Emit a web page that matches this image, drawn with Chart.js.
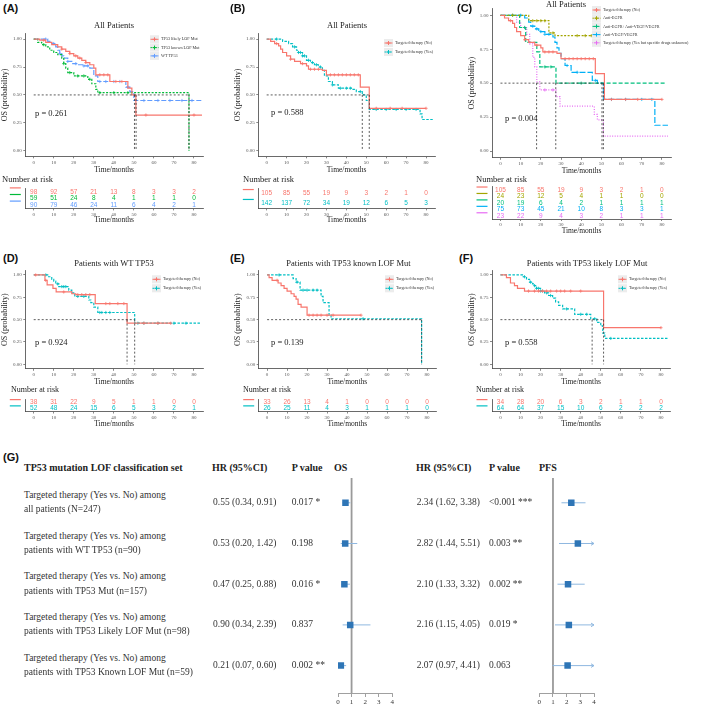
<!DOCTYPE html>
<html>
<head>
<meta charset="utf-8">
<title>Targeted therapy and OS by TP53 status</title>
<script src="https://cdn.jsdelivr.net/npm/chart.js@4.4.1/dist/chart.umd.min.js"></script>
<style>
  html, body { margin: 0; padding: 0; background: #fff; }
  body { position: relative; width: 709px; height: 709px; overflow: hidden;
         font-family: "Liberation Serif", "DejaVu Serif", serif; color: #333; }
  canvas { position: absolute; }
  .t { position: absolute; white-space: nowrap; line-height: 1.2; }
</style>
</head>
<body>
<script>
// ---- values ----
const riskTimes = [0, 10, 20, 30, 40, 50, 60, 70, 80];
const survTicks = [0, 0.25, 0.5, 0.75, 1];
const forestTicks = [0, 1, 2, 3, 4];

// (A) all patients by TP53 class
const aLikelyT = [0, 3, 6, 9, 12, 14, 16, 18, 20, 22, 24, 26, 28, 30, 31, 38, 47, 49, 51, 84];
const aLikelyS = [1, 0.99, 0.97, 0.95, 0.93, 0.91, 0.89, 0.87, 0.85, 0.83, 0.81, 0.79, 0.77, 0.74, 0.68, 0.62, 0.56, 0.50, 0.32, 0.32];
const aLikelyC = [5, 14, 18, 21, 23, 26, 33, 35, 37, 41, 44, 56, 80];
const aKnownT = [0, 2, 4, 6, 8, 10, 12, 14, 15, 16, 17, 20, 27, 29, 31, 32, 77.5];
const aKnownS = [1, 0.97, 0.95, 0.93, 0.90, 0.88, 0.86, 0.83, 0.78, 0.74, 0.70, 0.67, 0.64, 0.60, 0.55, 0.52, 0];
const aKnownC = [5, 15, 18, 22, 25, 28, 33, 40, 47];
const aWtT = [0, 7, 9, 11, 12, 13, 14, 15, 17, 19, 22, 25, 28, 30, 32, 46, 48, 50, 84];
const aWtS = [1, 0.98, 0.96, 0.93, 0.90, 0.87, 0.85, 0.83, 0.80, 0.78, 0.77, 0.76, 0.74, 0.67, 0.62, 0.57, 0.53, 0.45, 0.45];
const aWtC = [6, 10, 13, 17, 21, 25, 27, 33, 36, 40, 43, 47, 55, 62, 68, 74, 79];
const aMed = [50.3, 51.1, 77.5];
const aRiskLikely = [98, 92, 57, 21, 13, 8, 3, 3, 2];
const aRiskKnown = [59, 51, 24, 8, 4, 1, 1, 1, 0];
const aRiskWt = [90, 79, 46, 24, 11, 6, 4, 2, 1];

// (B) all patients, targeted therapy no / yes
const bNoT = [0, 2, 4, 6, 7, 8, 10, 12, 14, 17, 20, 21, 28, 30, 47, 51.5, 80];
const bNoS = [1, 0.98, 0.96, 0.94, 0.91, 0.88, 0.85, 0.82, 0.80, 0.78, 0.76, 0.73, 0.72, 0.68, 0.57, 0.38, 0.38];
const bNoC = [5, 12, 18, 22, 24, 26, 32, 34, 36, 38, 40, 42, 44, 46, 55, 62, 68, 80];
const bYesT = [0, 8, 11, 13, 15, 16, 18, 20, 22, 24, 26, 28, 29, 31, 33, 36, 43, 45, 48, 50, 51.5, 77, 78, 84];
const bYesS = [1, 0.98, 0.96, 0.93, 0.90, 0.88, 0.85, 0.81, 0.79, 0.77, 0.75, 0.72, 0.67, 0.62, 0.59, 0.56, 0.55, 0.53, 0.50, 0.45, 0.37, 0.33, 0.28, 0.28];
const bYesC = [5, 14, 16, 17, 18, 19, 21, 23, 25, 27, 33, 37, 40, 42, 47, 55, 60, 65, 70, 75];
const bMed = [48, 51.5];
const bRiskNo = [105, 85, 55, 19, 9, 3, 2, 1, 0];
const bRiskYes = [142, 137, 72, 34, 19, 12, 6, 5, 3];

// (C) all patients by drug class
const cEgfrT = [0, 14, 24, 27, 47];
const cEgfrS = [1, 0.96, 0.87, 0.85, 0.85];
const cEgfrC = [6, 16, 18, 20, 22, 26, 38, 42, 45];
const cBothT = [0, 9.5, 12.5, 18, 19.5, 27.5, 82];
const cBothS = [1, 0.91, 0.80, 0.73, 0.62, 0.50, 0.50];
const cBothC = [12, 22, 25, 40];
const cVegfT = [0, 12, 14, 15, 17, 19, 22, 26, 27, 28, 29, 30, 32, 35, 45.5, 48, 51, 76.5, 83];
const cVegfS = [1, 0.98, 0.95, 0.92, 0.90, 0.88, 0.86, 0.84, 0.80, 0.76, 0.72, 0.68, 0.63, 0.58, 0.52, 0.50, 0.38, 0.19, 0.19];
const cVegfC = [6, 10, 16, 18, 20, 22, 24, 33, 38, 47, 55, 62, 70, 75];
const cUnkT = [0, 8, 10, 13, 14.5, 16, 17, 18, 19.5, 27.5, 29.5, 46.5, 48, 51, 83];
const cUnkS = [1, 0.95, 0.91, 0.86, 0.79, 0.69, 0.62, 0.51, 0.45, 0.40, 0.33, 0.27, 0.23, 0.11, 0.11];
const cUnkC = [12, 22, 26];
const cMed = [17.9, 27.4, 50.3, 51];
const cRiskEgfr = [24, 23, 12, 5, 4, 1, 1, 0, 0];
const cRiskBoth = [20, 19, 6, 4, 2, 1, 1, 1, 1];
const cRiskVegf = [75, 73, 45, 21, 10, 8, 3, 3, 1];
const cRiskUnk = [23, 22, 9, 4, 3, 2, 1, 1, 1];

// (D) WT TP53
const dNoT = [0, 5.6, 6.7, 9.6, 11.2, 19, 21, 30.7, 46.6, 68.4];
const dNoS = [1, 0.94, 0.89, 0.85, 0.81, 0.79, 0.78, 0.68, 0.46, 0.46];
const dNoC = [1, 6, 15, 22, 24, 26, 28, 36, 38, 42, 45, 55, 62, 68.4];
const dYesT = [0, 7, 9, 10, 11, 12.5, 17.5, 19, 20.5, 27.5, 28.5, 30, 32, 50.4, 83];
const dYesS = [1, 0.98, 0.95, 0.93, 0.90, 0.87, 0.83, 0.80, 0.76, 0.72, 0.69, 0.64, 0.58, 0.46, 0.46];
const dYesC = [6, 12, 14, 15, 16, 22, 25, 33, 34, 36, 38, 52, 55, 62, 70, 76];
const dMed = [46.6, 50.4];
const dRiskNo = [38, 31, 22, 9, 5, 1, 1, 0, 0];
const dRiskYes = [52, 48, 24, 15, 6, 5, 3, 2, 1];

// (E) TP53 known LOF
const eNoT = [0, 1, 2.5, 5.5, 7, 8.5, 10, 12, 13.5, 14.5, 15.5, 17, 20, 47];
const eNoS = [1, 0.97, 0.94, 0.91, 0.88, 0.85, 0.82, 0.79, 0.76, 0.73, 0.67, 0.64, 0.55, 0.55];
const eNoC = [5, 21, 23, 25, 27, 30, 33, 47];
const eYesT = [0, 13, 14.5, 16.5, 27, 28, 31, 32, 77.3];
const eYesS = [1, 0.96, 0.92, 0.83, 0.76, 0.69, 0.55, 0.51, 0];
const eYesC = [6, 15, 18, 20, 23, 25, 48];
const eMed = [77.3];
const eRiskNo = [33, 26, 13, 4, 1, 0, 0, 0, 0];
const eRiskYes = [26, 25, 11, 4, 3, 1, 1, 1, 0];

// (F) TP53 likely LOF
const fNoT = [0, 3, 5, 7, 8.5, 12, 51.4, 80];
const fNoS = [1, 0.97, 0.91, 0.88, 0.85, 0.82, 0.41, 0.41];
const fNoC = [14, 17, 19, 21, 23, 25, 28, 30, 32, 35, 40, 80];
const fYesT = [0, 11, 13, 14.5, 16, 17, 18, 20, 22, 24, 26, 27.5, 29, 31, 37, 45, 48, 50, 51, 52, 84];
const fYesS = [1, 0.98, 0.95, 0.92, 0.90, 0.88, 0.85, 0.82, 0.80, 0.77, 0.74, 0.70, 0.66, 0.62, 0.56, 0.51, 0.47, 0.43, 0.35, 0.29, 0.29];
const fYesC = [12, 15, 17, 18, 19, 20, 21, 23, 25, 33, 40, 43, 47, 55];
const fMed = [45.7, 51.4];
const fRiskNo = [34, 28, 20, 6, 3, 2, 1, 1, 0];
const fRiskYes = [64, 64, 37, 15, 10, 6, 2, 2, 2];

// (G) forest table
const forestLabels = [
  'all patients (N=247)',
  'patients with WT TP53 (n=90)',
  'patients with TP53 Mut (n=157)',
  'patients with TP53 Likely LOF Mut (n=98)',
  'patients with TP53 Known LOF Mut (n=59)'
];
const osHr = [0.55, 0.53, 0.47, 0.90, 0.21];
const osLo = [0.34, 0.20, 0.25, 0.34, 0.07];
const osHi = [0.91, 1.42, 0.88, 2.39, 0.60];
const osP = ['0.017 *', '0.198', '0.016 *', '0.837', '0.002 **'];
const pfsHr = [2.34, 2.82, 2.10, 2.16, 2.07];
const pfsLo = [1.62, 1.44, 1.33, 1.15, 0.97];
const pfsHi = [3.38, 5.51, 3.32, 4.05, 4.41];
const pfsP = ['<0.001 ***', '0.003 **', '0.002 **', '0.019 *', '0.063'];

// ---- helpers ----
Chart.defaults.animation = false;
Chart.defaults.font.family = '"Liberation Serif", serif';
const XMIN = -4.2, XMAX = 84.5;
const RED = '#F8766D', TEAL = '#00BFC4';

function survAt(t, s, x) {
  let v = s[0];
  for (let i = 0; i < t.length; i++) if (t[i] <= x) v = s[i];
  return v;
}

function newCanvas(l, t, w, h) {
  const c = document.createElement('canvas');
  c.width = w; c.height = h;
  c.style.left = l + 'px'; c.style.top = t + 'px';
  c.style.width = w + 'px'; c.style.height = h + 'px';
  document.body.appendChild(c);
  return c;
}

function addText(x, y, str, size, extra) {
  const d = document.createElement('div');
  d.className = 't';
  d.textContent = str;
  d.style.left = x + 'px';
  d.style.top = (y - size * 0.6) + 'px';
  d.style.fontSize = size + 'px';
  if (extra) Object.assign(d.style, extra);
  document.body.appendChild(d);
  return d;
}
const center = { transform: 'translateX(-50%)' };

function axisX(fitH, title, titleSize) {
  return {
    type: 'linear', min: XMIN, max: XMAX,
    afterFit: s => { s.height = fitH; },
    afterBuildTicks: s => { s.ticks = riskTimes.map(v => ({ value: v })); },
    grid: { drawOnChartArea: false, tickLength: 2, color: '#555', lineWidth: 0.7 },
    border: { color: '#444', width: 0.8 },
    ticks: { font: { size: 5 }, color: '#555', padding: 1, maxRotation: 0, autoSkip: false },
    title: { display: true, text: title, font: { size: titleSize }, color: '#222', padding: 0 }
  };
}

function drawKM(p) {
  const cl = Math.floor(p.area.l - 25), ct = Math.floor(p.area.t - 3);
  const cr = Math.ceil(p.right || p.area.r + 4), cb = Math.round(p.xTitleY + 5);
  const cv = newCanvas(cl, ct, cr - cl, cb - ct);
  const sets = [];
  p.curves.forEach(c => {
    // KM step: hold the previous value, then drop at the event time
    sets.push({
      data: c.t.map((t, i) => ({ x: t, y: c.s[i] })),
      borderColor: c.color, borderWidth: 1.2, borderDash: c.dash,
      stepped: 'before', pointRadius: 0, fill: false
    });
    sets.push({
      data: c.cens.map(t => ({ x: t, y: survAt(c.t, c.s, t) })),
      showLine: false, pointStyle: 'cross', pointRadius: 1.6,
      pointBorderColor: c.color, pointBorderWidth: 0.8
    });
  });
  const extra = {
    id: 'km' + p.id,
    afterDatasetsDraw(chart) {
      const ctx = chart.ctx, xs = chart.scales.x, ys = chart.scales.y;
      ctx.save();
      // median lines
      ctx.strokeStyle = '#333'; ctx.lineWidth = 0.8; ctx.setLineDash([2, 2]);
      const y5 = ys.getPixelForValue(0.5), y0 = ys.getPixelForValue(0);
      ctx.beginPath();
      ctx.moveTo(xs.getPixelForValue(0), y5);
      ctx.lineTo(xs.getPixelForValue(Math.max(...p.med)), y5);
      p.med.forEach(m => {
        const x = xs.getPixelForValue(m);
        ctx.moveTo(x, y5); ctx.lineTo(x, y0);
      });
      ctx.stroke();
      // legend
      ctx.font = '4.2px "Liberation Serif"';
      ctx.textBaseline = 'middle';
      p.curves.forEach((c, i) => {
        const lx = p.leg.x - cl, ly = p.leg.y + i * p.leg.dy - ct;
        ctx.setLineDash([]);
        ctx.fillStyle = '#ececec';
        ctx.fillRect(lx, ly - 4, 9, 8);
        ctx.strokeStyle = c.color; ctx.lineWidth = 1;
        ctx.setLineDash(c.dash.map(d => d * 0.7));
        ctx.beginPath(); ctx.moveTo(lx + 0.5, ly); ctx.lineTo(lx + 8.5, ly); ctx.stroke();
        ctx.setLineDash([]);
        ctx.beginPath();
        ctx.moveTo(lx + 4.5, ly - 2); ctx.lineTo(lx + 4.5, ly + 2);
        ctx.moveTo(lx + 2.5, ly); ctx.lineTo(lx + 6.5, ly);
        ctx.stroke();
        ctx.fillStyle = '#333';
        ctx.fillText(c.label, lx + 11, ly);
      });
      ctx.restore();
    }
  };
  new Chart(cv, {
    type: 'line',
    data: { datasets: sets },
    options: {
      responsive: false, animation: false,
      layout: { autoPadding: false, padding: { left: 0, top: p.area.t - ct, right: cr - p.area.r, bottom: 0 } },
      plugins: { legend: { display: false }, tooltip: { enabled: false } },
      scales: {
        x: axisX(cb - p.area.b, 'Time/months', 7.5),
        y: {
          min: -0.05, max: 1.05,
          afterFit: s => { s.width = p.area.l - cl; },
          afterBuildTicks: s => { s.ticks = survTicks.map(v => ({ value: v })); },
          grid: { drawOnChartArea: false, tickLength: 2, color: '#555', lineWidth: 0.7 },
          border: { color: '#444', width: 0.8 },
          ticks: { font: { size: 5 }, color: '#555', padding: 1.5, callback: v => Number(v).toFixed(2) },
          title: { display: true, text: 'OS (probability)', font: { size: 8 }, color: '#222', padding: 0 }
        }
      }
    },
    plugins: [extra]
  });
}

function drawRisk(p) {
  const cl = Math.floor(p.area.l - 25), ct = Math.floor(p.area.t - 2);
  const cr = Math.ceil(p.area.r + 4), cb = Math.round(p.xTitleY + 5);
  const cv = newCanvas(cl, ct, cr - cl, cb - ct);
  const n = p.rows.length;
  const extra = {
    id: 'risk' + p.id,
    afterDraw(chart) {
      const ctx = chart.ctx, xs = chart.scales.x, ys = chart.scales.y;
      ctx.save();
      ctx.font = '6.5px "Liberation Sans"';
      ctx.textAlign = 'center'; ctx.textBaseline = 'middle';
      p.rows.forEach((r, i) => {
        const y = ys.getPixelForValue(i + 1);
        ctx.fillStyle = r.color;
        r.n.forEach((v, j) => ctx.fillText(String(v), xs.getPixelForValue(riskTimes[j]), y));
        ctx.strokeStyle = r.color; ctx.lineWidth = 1.2;
        ctx.beginPath();
        ctx.moveTo(p.area.l - 15.5 - cl, y - p.markOff);
        ctx.lineTo(p.area.l - 4.5 - cl, y - p.markOff);
        ctx.stroke();
      });
      ctx.restore();
    }
  };
  new Chart(cv, {
    type: 'line',
    data: { datasets: [] },
    options: {
      responsive: false, animation: false,
      layout: { autoPadding: false, padding: { left: 0, top: p.area.t - ct, right: cr - p.area.r, bottom: 0 } },
      plugins: { legend: { display: false }, tooltip: { enabled: false } },
      scales: {
        x: axisX(cb - p.area.b, 'Time/months', 7.5),
        y: {
          min: 0.5, max: n + 0.5, reverse: true,
          afterFit: s => { s.width = p.area.l - cl; },
          grid: { display: true, drawOnChartArea: false, drawTicks: false },
          border: { color: '#444', width: 0.8 },
          ticks: { display: false }
        }
      }
    },
    plugins: [extra]
  });
}

function drawForest(p) {
  const cl = Math.floor(p.area.l - 6), ct = Math.floor(p.area.t - 4);
  const cr = Math.ceil(p.area.r + 8), cb = 709;
  const cv = newCanvas(cl, ct, cr - cl, cb - ct);
  const extra = {
    id: 'forest' + p.id,
    beforeDatasetsDraw(chart) {
      const ctx = chart.ctx, xs = chart.scales.x, ys = chart.scales.y, a = chart.chartArea;
      ctx.save();
      ctx.strokeStyle = '#9a9a9a'; ctx.lineWidth = 1.8;
      ctx.beginPath();
      ctx.moveTo(xs.getPixelForValue(1), a.top); ctx.lineTo(xs.getPixelForValue(1), a.bottom);
      ctx.stroke();
      ctx.strokeStyle = '#8fb8e0'; ctx.lineWidth = 1;
      p.hr.forEach((h, i) => {
        const y = ys.getPixelForValue(i);
        const x0 = xs.getPixelForValue(Math.max(0, p.lo[i]));
        const x1 = xs.getPixelForValue(Math.min(4, p.hi[i]));
        ctx.beginPath(); ctx.moveTo(x0, y); ctx.lineTo(x1, y); ctx.stroke();
        if (p.hi[i] > 4) {
          ctx.beginPath();
          ctx.moveTo(x1 - 3, y - 1.8); ctx.lineTo(x1, y); ctx.lineTo(x1 - 3, y + 1.8);
          ctx.stroke();
        }
      });
      ctx.restore();
    }
  };
  new Chart(cv, {
    type: 'scatter',
    data: { datasets: [{
      data: p.hr.map((h, i) => ({ x: h, y: i })),
      pointStyle: 'rect', pointRadius: 4.6,
      backgroundColor: '#2E75B6', borderColor: '#2E75B6', borderWidth: 0
    }] },
    options: {
      responsive: false, animation: false,
      layout: { autoPadding: false, padding: { left: p.area.l - cl, top: p.area.t - ct, right: cr - p.area.r, bottom: 0 } },
      plugins: { legend: { display: false }, tooltip: { enabled: false } },
      scales: {
        x: {
          min: 0, max: 4,
          afterFit: s => { s.height = cb - p.area.b; },
          afterBuildTicks: s => { s.ticks = forestTicks.map(v => ({ value: v })); },
          grid: { drawOnChartArea: false, tickLength: 4, color: '#888', lineWidth: 0.8 },
          border: { color: '#888', width: 0.8 },
          ticks: { font: { size: 7 }, color: '#333', padding: 1 }
        },
        y: { display: false, min: -0.609, max: 4.673, reverse: true }
      }
    },
    plugins: [extra]
  });
}

// ---- panels ----
drawKM({ id: 'A', area: { l: 25.3, r: 203, t: 32.05, b: 156.35 }, xTitleY: 169.5,
  leg: { x: 150, y: 39.3, dy: 8.3 }, med: aMed,
  curves: [
    { t: aLikelyT, s: aLikelyS, cens: aLikelyC, color: RED, dash: [], label: 'TP53 likely LOF Mut' },
    { t: aKnownT, s: aKnownS, cens: aKnownC, color: '#00BA38', dash: [2, 1.5], label: 'TP53 known LOF Mut' },
    { t: aWtT, s: aWtS, cens: aWtC, color: '#619CFF', dash: [5, 2], label: 'WT TP53' }
  ] });
drawRisk({ id: 'A', area: { l: 25.3, r: 203, t: 188.6, b: 208.4 }, xTitleY: 220, markOff: 4,
  rows: [ { n: aRiskLikely, color: RED }, { n: aRiskKnown, color: '#00BA38' }, { n: aRiskWt, color: '#619CFF' } ] });

drawKM({ id: 'B', area: { l: 258.3, r: 435, t: 32.05, b: 156.35 }, xTitleY: 169.5,
  leg: { x: 384, y: 43, dy: 9 }, med: bMed,
  curves: [
    { t: bNoT, s: bNoS, cens: bNoC, color: RED, dash: [], label: 'Targeted therapy (No)' },
    { t: bYesT, s: bYesS, cens: bYesC, color: TEAL, dash: [2.5, 1.5], label: 'Targeted therapy (Yes)' }
  ] });
drawRisk({ id: 'B', area: { l: 258.3, r: 435, t: 188.6, b: 208.4 }, xTitleY: 220, markOff: 4,
  rows: [ { n: bRiskNo, color: RED }, { n: bRiskYes, color: TEAL } ] });

drawKM({ id: 'C', area: { l: 492, r: 671, t: 7.9, b: 157.8 }, xTitleY: 170.5, right: 709,
  leg: { x: 592, y: 10, dy: 8.2 }, med: cMed,
  curves: [
    { t: bNoT, s: bNoS, cens: bNoC, color: RED, dash: [], label: 'Targeted therapy (No)' },
    { t: cEgfrT, s: cEgfrS, cens: cEgfrC, color: '#A3A500', dash: [2, 1.5], label: 'Anti-EGFR' },
    { t: cBothT, s: cBothS, cens: cBothC, color: '#00BF7D', dash: [4, 2], label: 'Anti-EGFR+Anti-VEGF/VEGFR' },
    { t: cVegfT, s: cVegfS, cens: cVegfC, color: '#00B0F6', dash: [6, 2], label: 'Anti-VEGF/VEGFR' },
    { t: cUnkT, s: cUnkS, cens: cUnkC, color: '#E76BF3', dash: [1, 1.5], label: 'Targeted therapy (Yes but specific drugs unknown)' }
  ] });
drawRisk({ id: 'C', area: { l: 492, r: 671, t: 186.8, b: 219 }, xTitleY: 231, markOff: 3,
  rows: [ { n: bRiskNo, color: RED }, { n: cRiskEgfr, color: '#A3A500' }, { n: cRiskBoth, color: '#00BF7D' },
          { n: cRiskVegf, color: '#00B0F6' }, { n: cRiskUnk, color: '#E76BF3' } ] });

const row2 = [
  { id: 'D', l: 25.3, r: 203, legX: 152, med: dMed, no: [dNoT, dNoS, dNoC], yes: [dYesT, dYesS, dYesC], risk: [dRiskNo, dRiskYes] },
  { id: 'E', l: 258.7, r: 436, legX: 385, med: eMed, no: [eNoT, eNoS, eNoC], yes: [eYesT, eYesS, eYesC], risk: [eRiskNo, eRiskYes] },
  { id: 'F', l: 492, r: 670, legX: 618, med: fMed, no: [fNoT, fNoS, fNoC], yes: [fYesT, fYesS, fYesC], risk: [fRiskNo, fRiskYes] }
];
row2.forEach(g => {
  drawKM({ id: g.id, area: { l: g.l, r: g.r, t: 269.5, b: 368.8 }, xTitleY: 381.7,
    leg: { x: g.legX, y: 279.3, dy: 9 }, med: g.med,
    curves: [
      { t: g.no[0], s: g.no[1], cens: g.no[2], color: RED, dash: [], label: 'Targeted therapy (No)' },
      { t: g.yes[0], s: g.yes[1], cens: g.yes[2], color: TEAL, dash: [2.5, 1.5], label: 'Targeted therapy (Yes)' }
    ] });
  drawRisk({ id: g.id, area: { l: g.l, r: g.r, t: 399, b: 411.5 }, xTitleY: 424, markOff: 2.5,
    rows: [ { n: g.risk[0], color: RED }, { n: g.risk[1], color: TEAL } ] });
});

drawForest({ id: 'OS', area: { l: 338, r: 392.3, t: 478, b: 693 }, hr: osHr, lo: osLo, hi: osHi });
drawForest({ id: 'PFS', area: { l: 539.3, r: 594, t: 478, b: 693 }, hr: pfsHr, lo: pfsLo, hi: pfsHi });

// ---- text ----
const panelFont = { fontFamily: '"Liberation Sans", Arial, sans-serif', fontWeight: 'bold', color: '#111' };
[['(A)', 3, 8.5], ['(B)', 230, 8.5], ['(C)', 457, 8.5], ['(D)', 3, 259], ['(E)', 230, 259], ['(F)', 459, 259], ['(G)', 3, 458]]
  .forEach(([s, x, y]) => addText(x, y, s, 11, panelFont));

[['All Patients', 114, 25], ['All Patients', 347, 25], ['All Patients', 566, 4.5],
 ['Patients with WT TP53', 114, 263], ['Patients with TP53 known LOF Mut', 348.5, 263],
 ['Patients with TP53 likely LOF Mut', 587, 263]]
  .forEach(([s, x, y]) => addText(x, y, s, 8.5, Object.assign({ color: '#222' }, center)));

[['p = 0.261', 35, 113], ['p = 0.588', 271, 112], ['p = 0.004', 505, 117.7],
 ['p = 0.924', 35, 342], ['p = 0.139', 271, 342], ['p = 0.558', 505, 342]]
  .forEach(([s, x, y]) => addText(x, y, s, 8.5, { color: '#222' }));

[[2, 179, 8.5], [243, 179, 8.5], [476, 178.7, 8.5], [11, 390, 8], [243, 390, 8], [476, 390, 8]]
  .forEach(([x, y, f]) => addText(x, y, 'Number at risk', f, { color: '#222' }));

const bold = { fontWeight: 'bold', color: '#222' };
addText(24, 468, 'TP53 mutation LOF classification set', 10, bold);
addText(212, 468, 'HR (95%CI)', 10, bold);
addText(291.7, 468, 'P value', 10, bold);
addText(334, 468, 'OS', 10, bold);
addText(416, 468, 'HR (95%CI)', 10, bold);
addText(489, 468, 'P value', 10, bold);
addText(539, 468, 'PFS', 10, bold);

const fmt = (h, l, u) => h.toFixed(2) + ' (' + l.toFixed(2) + ', ' + u.toFixed(2) + ')';
forestLabels.forEach((lab, i) => {
  const y = 502.8 + 40.7 * i;
  addText(24, y - 7.2, 'Targeted therapy (Yes vs. No) among', 9.5);
  addText(24, y + 7.2, lab, 9.5);
  addText(213, y, fmt(osHr[i], osLo[i], osHi[i]), 9.5);
  addText(291.7, y, osP[i], 9.5);
  addText(416.7, y, fmt(pfsHr[i], pfsLo[i], pfsHi[i]), 9.5);
  addText(489, y, pfsP[i], 9.5);
});
</script>
</body>
</html>
